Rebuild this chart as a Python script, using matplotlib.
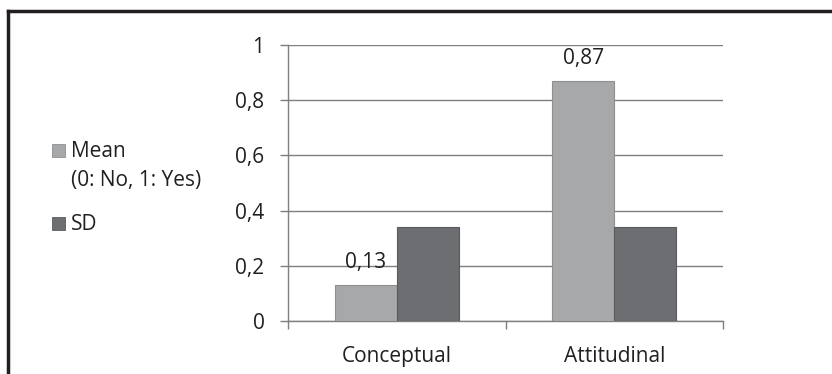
import matplotlib.pyplot as plt
import numpy as np
from matplotlib.patches import Rectangle
from matplotlib.lines import Line2D

# Data
categories = ['Conceptual', 'Attitudinal']
mean_vals = [0.13, 0.87]
sd_vals = [0.34, 0.34]
mean_labels = ['0,13', '0,87']
y_ticks = [0, 0.2, 0.4, 0.6, 0.8, 1]
y_tick_labels = ['0', '0,2', '0,4', '0,6', '0,8', '1']

plt.rcParams['font.family'] = ['Open Sans', 'DejaVu Sans']
FS = 15

W, H = 832, 374
fig = plt.figure(figsize=(W / 100, H / 100), dpi=100)
ax = fig.add_axes([288 / W, 1 - 321 / H, (723 - 288) / W, (321 - 45) / H])

mean_color = '#a7a8aa'
sd_color = '#6d6e71'
text_color = '#231f20'

x = np.arange(len(categories))
bar_w = 0.285
ax.bar(x - bar_w / 2, mean_vals, bar_w, color=mean_color, edgecolor='#8e8f91', linewidth=0.8, zorder=3)
ax.bar(x + bar_w / 2, sd_vals, bar_w, color=sd_color, edgecolor='#5a5b5e', linewidth=0.8, zorder=3)

# value labels on the mean bars
for xi, v, lab in zip(x, mean_vals, mean_labels):
    ax.annotate(lab, (xi - bar_w / 2, v), xytext=(0, 12), textcoords='offset points',
                ha='center', va='baseline', fontsize=FS, color=text_color, zorder=4)

ax.set_xlim(-0.5, 1.5)
ax.set_ylim(0, 1)
ax.set_yticks(y_ticks)
ax.set_yticklabels(y_tick_labels, fontsize=FS, color=text_color)
ax.yaxis.grid(True, color='#7f7f7f', linewidth=1.0, zorder=0)
ax.set_axisbelow(True)

# category ticks sit on the boundaries, names centred under each group
ax.set_xticks([-0.5, 0.5, 1.5])
ax.set_xticklabels([])
for xi, name in zip(x, categories):
    ax.annotate(name, (xi, 0), xycoords=('data', 'axes fraction'), xytext=(0, -29.5),
                textcoords='offset points', ha='center', va='baseline',
                fontsize=FS, color=text_color, annotation_clip=False)
ax.tick_params(axis='x', length=6, color='#7f7f7f', width=1.0)
ax.tick_params(axis='y', length=6, color='#7f7f7f', width=1.0, pad=11)

for side in ['top', 'right']:
    ax.spines[side].set_visible(False)
for side in ['left', 'bottom']:
    ax.spines[side].set_color('#7f7f7f')
    ax.spines[side].set_linewidth(1.0)

# legend on the left
def fx(px):
    return px / W

def fy(py):
    return 1 - py / H

sq = 13
fig.add_artist(Rectangle((fx(52), fy(157)), sq / W, sq / H, transform=fig.transFigure,
                         facecolor=mean_color, edgecolor='#8e8f91', linewidth=0.6))
fig.add_artist(Rectangle((fx(52), fy(230)), sq / W, sq / H, transform=fig.transFigure,
                         facecolor=sd_color, edgecolor='#5a5b5e', linewidth=0.6))
fig.text(fx(71), fy(157), 'Mean', fontsize=FS, color=text_color, va='baseline', ha='left')
fig.text(fx(71), fy(186), '(0: No, 1: Yes)', fontsize=FS, color=text_color, va='baseline', ha='left')
fig.text(fx(71), fy(230), 'SD', fontsize=FS, color=text_color, va='baseline', ha='left')

# frame around the chart
fig.add_artist(Line2D([fx(8), 1], [fy(11), fy(11)], transform=fig.transFigure,
                      color='#231f20', linewidth=2.5))
fig.add_artist(Line2D([fx(8), fx(8)], [fy(11), 0], transform=fig.transFigure,
                      color='#231f20', linewidth=2.5))

fig.savefig('out.png', dpi=100)
